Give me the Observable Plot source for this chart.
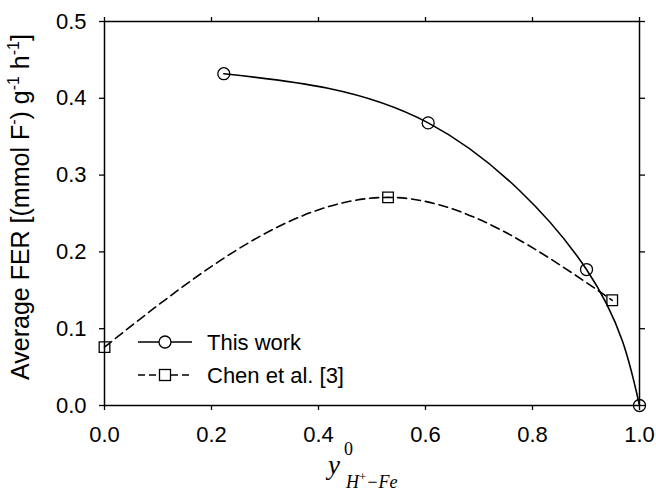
<!DOCTYPE html>
<html>
<head>
<meta charset="utf-8">
<script src="https://cdn.jsdelivr.net/npm/d3@7"></script>
<script src="https://cdn.jsdelivr.net/npm/@observablehq/plot@0.6"></script>
<style>
  html, body { margin: 0; padding: 0; background: #fff; }
  #chart svg { display: block; }
</style>
</head>
<body>
<div id="chart"></div>
<script>
// ---- data ----
const seriesNames = ["This work", "Chen et al. [3]"];
const thisWorkX = [0.223, 0.605, 0.901, 1.0];
const thisWorkY = [0.432, 0.368, 0.177, 0.0];
const chenX = [0.0, 0.530, 0.949];
const chenY = [0.076, 0.271, 0.137];
const xTicks = [0, 0.2, 0.4, 0.6, 0.8, 1.0];
const yTicks = [0, 0.1, 0.2, 0.3, 0.4, 0.5];

const thisWork = thisWorkX.map((x, i) => ({x, y: thisWorkY[i]}));
const chen = chenX.map((x, i) => ({x, y: chenY[i]}));

const W = 656, H = 492;
const mL = 104, mR = 17, mT = 21, mB = 87;
const font = "'Liberation Sans', Arial, Helvetica, sans-serif";

const svg = Plot.plot({
  width: W,
  height: H,
  marginLeft: mL,
  marginRight: mR,
  marginTop: mT,
  marginBottom: mB,
  style: {fontFamily: font, background: "#fff", color: "#000"},
  x: {domain: [0, 1]},
  y: {domain: [0, 0.5]},
  marks: [
    Plot.frame({stroke: "#000", strokeWidth: 1.5}),
    Plot.axisX({anchor: "bottom", ticks: xTicks, tickFormat: d3.format(".1f"), tickSize: 5, tickPadding: 16, fontSize: 22, label: null, strokeWidth: 1.3}),
    Plot.axisX({anchor: "top", ticks: xTicks, tickFormat: () => "", tickSize: 5, label: null, strokeWidth: 1.3}),
    Plot.axisY({anchor: "left", ticks: yTicks, tickFormat: d3.format(".1f"), tickSize: 5, tickPadding: 13, fontSize: 22, label: null, strokeWidth: 1.3}),
    Plot.axisY({anchor: "right", ticks: yTicks, tickFormat: () => "", tickSize: 5, label: null, strokeWidth: 1.3}),
    Plot.line(chen, {x: "x", y: "y", curve: "monotone-x", stroke: "#000", strokeWidth: 1.6, strokeDasharray: "9,5"}),
    Plot.line(thisWork, {x: "x", y: "y", curve: "natural", stroke: "#000", strokeWidth: 1.6}),
    Plot.dot(thisWork, {x: "x", y: "y", symbol: "circle", r: 6, stroke: "#000", fill: "none", strokeWidth: 1.3}),
    Plot.dot(chen, {x: "x", y: "y", symbol: "square", r: 6, stroke: "#000", fill: "none", strokeWidth: 1.3})
  ]
});

const s = d3.select(svg);

// y-axis title with real superscripts
const yt = s.append("text")
  .attr("transform", `translate(29, ${(mT + H - mB) / 2 - 6}) rotate(-90)`)
  .attr("text-anchor", "middle")
  .style("font-family", font)
  .style("font-size", "25px")
  .attr("fill", "#000");
yt.append("tspan").text("Average FER [(mmol F");
yt.append("tspan").attr("dy", -10).style("font-size", "16px").text("-");
yt.append("tspan").attr("dy", 10).text(") g");
yt.append("tspan").attr("dy", -10).style("font-size", "16px").text("-1");
yt.append("tspan").attr("dy", 10).text(" h");
yt.append("tspan").attr("dy", -10).style("font-size", "16px").text("-1");
yt.append("tspan").attr("dy", 10).text("]");

// x-axis title: y^0_{H+ - Fe}
const xt = s.append("text")
  .attr("text-anchor", "start")
  .attr("x", 328)
  .attr("y", 474)
  .style("font-family", "'Liberation Serif', 'Times New Roman', serif")
  .style("font-style", "italic")
  .style("font-size", "27px")
  .attr("fill", "#000");
xt.append("tspan").text("y");
xt.append("tspan").attr("x", 344).attr("y", 455).style("font-size", "18px").style("font-style", "normal").text("0");
xt.append("tspan").attr("x", 346).attr("y", 488).style("font-size", "18px").text("H");
xt.append("tspan").attr("dy", -7).style("font-size", "13px").style("font-style", "normal").text("+");
xt.append("tspan").attr("dy", 7).style("font-size", "18px").text("−Fe");

// legend
const leg = s.append("g").style("font-family", font).style("font-size", "22px").attr("text-anchor", "start");
const legRows = [
  {name: seriesNames[0], dash: null, sym: "circle"},
  {name: seriesNames[1], dash: "7,4", sym: "square"}
];
legRows.forEach((r, i) => {
  const yy = 342 + i * 33;
  leg.append("line").attr("x1", 138).attr("x2", 192).attr("y1", yy).attr("y2", yy)
    .attr("stroke", "#000").attr("stroke-width", 1.6)
    .attr("stroke-dasharray", r.dash);
  if (r.sym === "circle") {
    leg.append("circle").attr("cx", 165).attr("cy", yy).attr("r", 6)
      .attr("fill", "#fff").attr("stroke", "#000").attr("stroke-width", 1.3);
  } else {
    leg.append("rect").attr("x", 159.5).attr("y", yy - 5.5).attr("width", 11).attr("height", 11)
      .attr("fill", "#fff").attr("stroke", "#000").attr("stroke-width", 1.3);
  }
  leg.append("text").attr("x", 207).attr("y", yy).attr("dy", "0.36em").attr("fill", "#000").text(r.name);
});

document.getElementById("chart").appendChild(svg);
</script>
</body>
</html>
